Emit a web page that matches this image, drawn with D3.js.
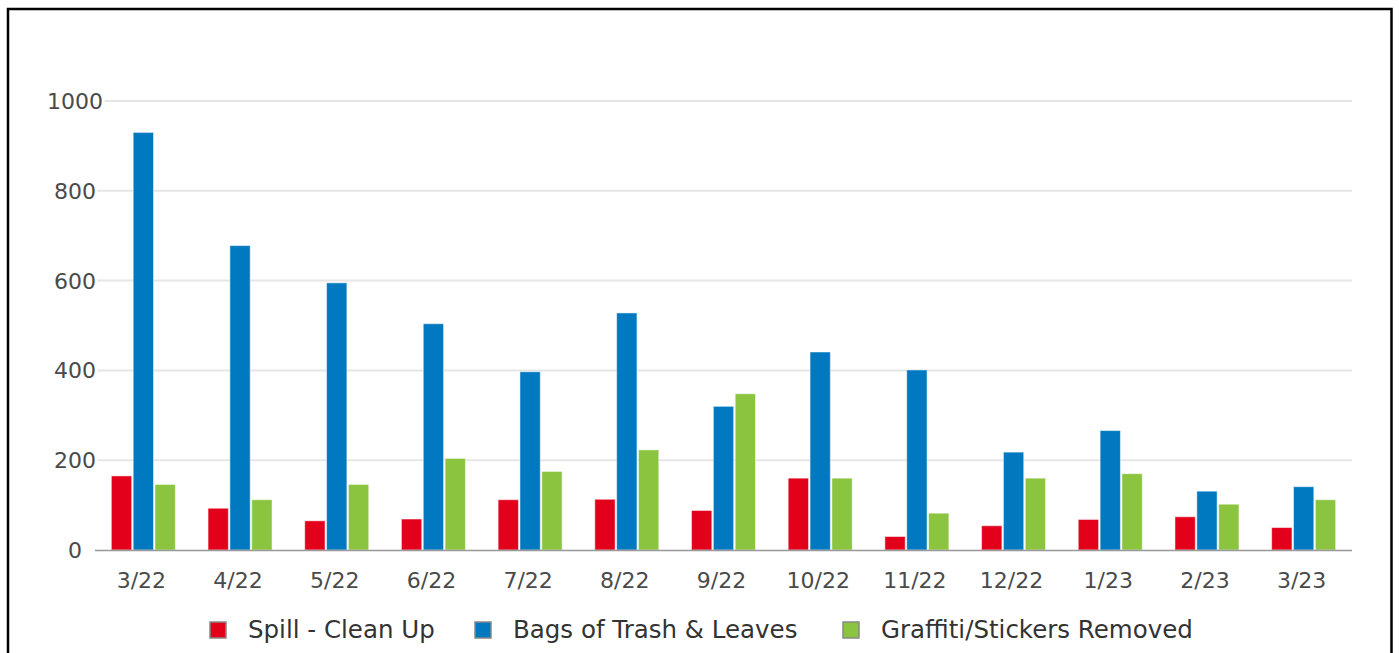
<!DOCTYPE html>
<html><head><meta charset="utf-8">
<script src="https://cdn.jsdelivr.net/npm/d3@7"></script>
<style>html,body{margin:0;padding:0;background:#fff;overflow:hidden}</style>
</head><body>
<svg id="chart" width="1399" height="653"></svg>
<script>
const categories = ["3/22","4/22","5/22","6/22","7/22","8/22","9/22","10/22","11/22","12/22","1/23","2/23","3/23"];
const seriesNames = ["Spill - Clean Up","Bags of Trash & Leaves","Graffiti/Stickers Removed"];
const spill = [165, 93, 65, 69, 112, 113, 88, 160, 30, 54, 68, 74, 50];
const bags = [930, 678, 595, 504, 397, 528, 320, 441, 401, 218, 266, 131, 141];
const graffiti = [146, 112, 146, 204, 175, 223, 348, 160, 82, 160, 170, 102, 112];
const yTicks = [0, 200, 400, 600, 800, 1000];
const colors = ["#e2001a", "#0079c1", "#8bc43f"];

const svg = d3.select("#chart");
const font = "DejaVu Sans, sans-serif";

svg.append("rect").attr("x",8).attr("y",9).attr("width",1383.5).attr("height",720)
  .attr("fill","none").attr("stroke","#000").attr("stroke-width",2.5);

const x0 = d3.scaleBand().domain(categories).range([95,1352]).padding(0);
const y = d3.scaleLinear().domain([0,1000]).range([550,101]);
const groupW = 64;
const x1 = d3.scaleBand().domain(seriesNames).range([0,groupW]).paddingInner(0.07);

svg.append("g").selectAll("line").data(yTicks.filter(d=>d>0)).join("line")
  .attr("x1",95).attr("x2",1352).attr("y1",d=>y(d)).attr("y2",d=>y(d))
  .attr("stroke","#e6e6e6").attr("stroke-width",2);

svg.append("g").selectAll("text").data(yTicks).join("text")
  .attr("x",75).attr("y",d=>y(d)+8).attr("text-anchor","middle")
  .attr("font-family",font).attr("font-size",22).attr("fill","#4a4a4a")
  .attr("stroke","#fff").attr("stroke-width",6).attr("paint-order","stroke")
  .text(d=>d);

const data = [spill, bags, graffiti];
const groups = svg.append("g").selectAll("g").data(categories).join("g")
  .attr("transform", c => `translate(${x0(c)+x0.bandwidth()/2-groupW/2},0)`);
groups.selectAll("rect").data((c,i)=>seriesNames.map((s,j)=>({s, v:data[j][i], j}))).join("rect")
  .attr("x",d=>x1(d.s)).attr("width",x1.bandwidth())
  .attr("y",d=>y(d.v)).attr("height",d=>y(0)-y(d.v))
  .attr("fill",d=>colors[d.j]).attr("stroke","#fff").attr("stroke-opacity",0.5).attr("stroke-width",1);

svg.append("line").attr("x1",95).attr("x2",1352).attr("y1",y(0)+0.5).attr("y2",y(0)+0.5)
  .attr("stroke","#999").attr("stroke-width",1.5);

svg.append("g").selectAll("text").data(categories).join("text")
  .attr("x",c=>x0(c)+x0.bandwidth()/2-2).attr("y",588).attr("text-anchor","middle")
  .attr("font-family",font).attr("font-size",22).attr("fill","#4a4a4a").text(c=>c);

const legendX = [210, 475, 843];
const lg = svg.append("g").selectAll("g").data(seriesNames).join("g")
  .attr("transform",(d,i)=>`translate(${legendX[i]},622)`);
lg.append("rect").attr("width",16).attr("height",16)
  .attr("fill",(d,i)=>colors[i]).attr("stroke","#888").attr("stroke-width",1.5);
lg.append("text").attr("x",38).attr("y",16).attr("font-family",font).attr("font-size",24.5)
  .attr("fill","#333").text(d=>d);
</script>
</body></html>
